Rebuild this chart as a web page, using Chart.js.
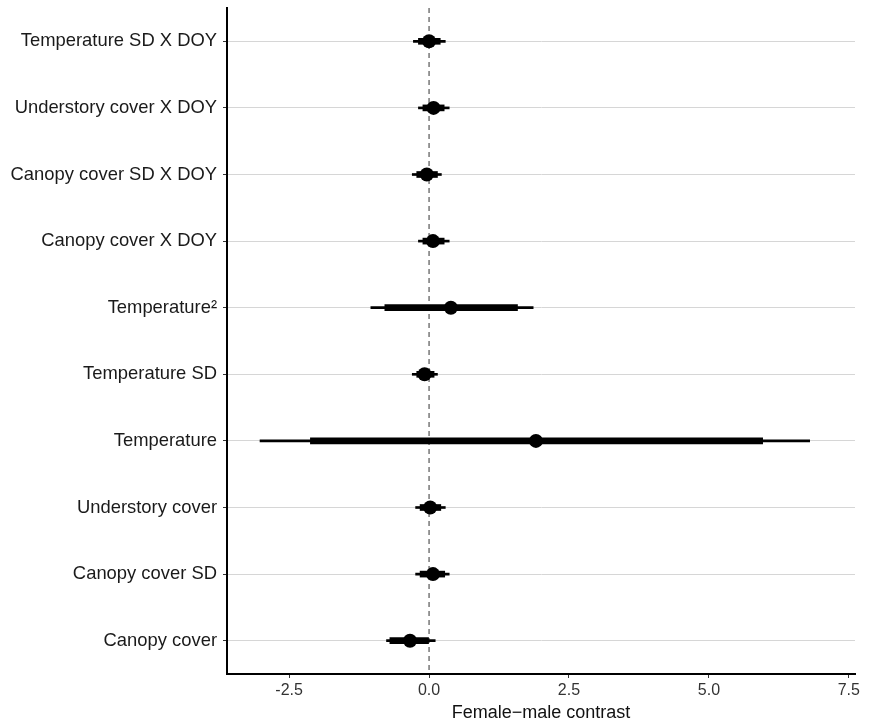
<!DOCTYPE html>
<html lang="en">
<head>
<meta charset="utf-8"/>
<title>Female-male contrast</title>
<script src="https://cdn.jsdelivr.net/npm/chart.js"></script>
<style>
    html, body { margin: 0; padding: 0; background: #fff; }
    .wrap { width: 871px; height: 727px; }
  </style>
</head>
<body>
<div class="wrap"><canvas id="forest" width="871" height="727"></canvas></div>
<script>
    // categories, top to bottom
    const labels = [
      'Temperature SD X DOY',
      'Understory cover X DOY',
      'Canopy cover SD X DOY',
      'Canopy cover X DOY',
      'Temperature\u00B2',
      'Temperature SD',
      'Temperature',
      'Understory cover',
      'Canopy cover SD',
      'Canopy cover'
    ];
    const means   = [0.00, 0.08, -0.04, 0.07, 0.39, -0.08, 1.91, 0.02, 0.07, -0.34];
    const outerLo = [-0.28, -0.19, -0.30, -0.19, -1.04, -0.30, -3.02, -0.24, -0.24, -0.76];
    const outerHi = [0.29, 0.36, 0.22, 0.36, 1.86, 0.15, 6.80, 0.29, 0.36, 0.11];
    const innerLo = [-0.19, -0.11, -0.22, -0.11, -0.79, -0.22, -2.12, -0.16, -0.16, -0.70];
    const innerHi = [0.20, 0.27, 0.15, 0.27, 1.58, 0.09, 5.96, 0.21, 0.28, 0.00];
    const xTicks = [-2.5, 0, 2.5, 5, 7.5];

    const FONT = "'Liberation Sans', Arial, Helvetica, sans-serif";

    // dashed reference line at zero
    const zeroLine = {
      id: 'zeroLine',
      beforeDatasetsDraw(chart) {
        const x = chart.scales.x.getPixelForValue(0);
        const a = chart.chartArea;
        const ctx = chart.ctx;
        ctx.save();
        ctx.strokeStyle = '#555';
        ctx.lineWidth = 1.2;
        ctx.setLineDash([5, 4]);
        ctx.beginPath();
        ctx.moveTo(x, a.top);
        ctx.lineTo(x, a.bottom);
        ctx.stroke();
        ctx.restore();
      }
    };

    new Chart(document.getElementById('forest'), {
      type: 'bar',
      data: {
        labels: labels,
        datasets: [
          {
            type: 'line',
            indexAxis: 'y',
            data: means,
            showLine: false,
            pointRadius: 7,
            pointBackgroundColor: '#000',
            pointBorderColor: '#000',
            pointBorderWidth: 0,
            order: 0
          },
          {
            indexAxis: 'y',
            data: labels.map((_, i) => [innerLo[i], innerHi[i]]),
            backgroundColor: '#000',
            barThickness: 6,
            grouped: false,
            order: 1
          },
          {
            indexAxis: 'y',
            data: labels.map((_, i) => [outerLo[i], outerHi[i]]),
            backgroundColor: '#000',
            barThickness: 2,
            grouped: false,
            order: 2
          }
        ]
      },
      options: {
        indexAxis: 'y',
        responsive: false,
        animation: false,
        events: [],
        layout: { padding: { top: 8, right: 16, left: 0, bottom: 0 } },
        plugins: { legend: { display: false }, tooltip: { enabled: false } },
        scales: {
          x: {
            type: 'linear',
            min: -3.61,
            max: 7.61,
            afterBuildTicks: s => { s.ticks = xTicks.map(v => ({ value: v })); },
            afterFit: s => {
              s.height = 53;
              s.paddingLeft = 0;
              s.paddingRight = 0;
            },
            ticks: {
              callback: v => v.toFixed(1),
              color: '#333',
              padding: 3,
              font: { family: FONT, size: 16 }
            },
            grid: { drawOnChartArea: false, color: '#333', tickColor: '#333', tickLength: 4 },
            border: { color: '#000', width: 2 },
            title: {
              display: true,
              text: 'Female\u2212male contrast',
              color: '#111',
              padding: { top: 0, bottom: 3 },
              font: { family: FONT, size: 18 }
            }
          },
          y: {
            type: 'category',
            offset: true,
            afterFit: s => {
              s.width = 227;
              s.paddingTop = 0;
              s.paddingBottom = 0;
            },
            ticks: {
              color: '#1a1a1a',
              padding: 6,
              font: { family: FONT, size: 18.4 }
            },
            grid: { offset: false, color: '#d6d6d6', lineWidth: 1, tickColor: '#333', tickLength: 4 },
            border: { color: '#000', width: 2 }
          }
        }
      },
      plugins: [zeroLine]
    });
  </script>
</body>
</html>
